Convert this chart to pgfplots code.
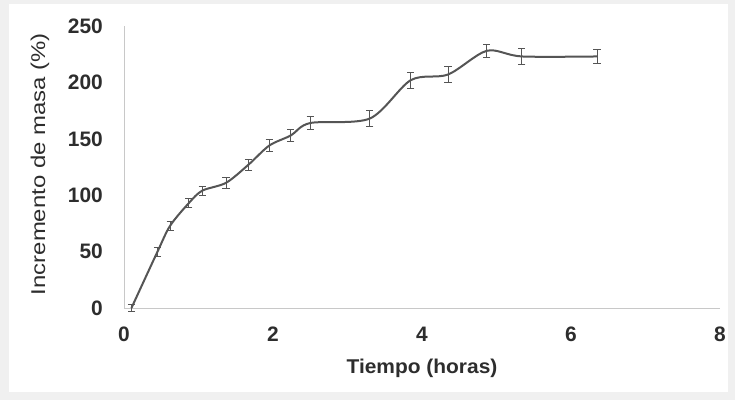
\documentclass[border=0pt]{standalone}
\usepackage{pgfplots}
\pgfplotsset{compat=1.18}
\usepackage{fontspec}
\setmainfont{Liberation Sans}
\definecolor{bggray}{RGB}{240,240,240}
\definecolor{linegray}{RGB}{85,85,85}
\definecolor{axgray}{RGB}{200,200,200}
\definecolor{txtgray}{RGB}{45,45,45}
\begin{document}
\begin{tikzpicture}
\fill[bggray] (-124bp,-92bp) rectangle (611bp,308bp);
\fill[white] (-115bp,-84bp) rectangle (604bp,304bp);
\begin{axis}[
  at={(0,0)}, anchor=origin,
  scale only axis,
  width=596bp, height=282bp,
  xmin=0, xmax=8, ymin=0, ymax=250,
  xtick={0,2,4,6,8}, ytick={0,50,100,150,200,250},
  axis x line=bottom, axis y line=left,
  axis line style={-, draw=axgray, line width=0.8bp},
  major tick length=0pt,
  /pgf/number format/assume math mode=true,
  tick label style={font=\fontsize{21}{24}\bfseries\selectfont, text=txtgray},
  yticklabel style={anchor=east, inner sep=0pt, xshift=-21bp},
  xticklabel style={anchor=north, inner sep=0pt, yshift=-19bp},
  xlabel={\scalebox{1.05}[1]{Tiempo (horas)}},
  ylabel={\scalebox{1.2}[1]{Incremento de masa (\%)}},
  label style={font=\fontsize{20}{24}\selectfont, text=txtgray},
  xlabel style={at={([yshift=-60bp]axis description cs:0.5,0)}, anchor=center, font=\fontsize{20}{24}\bfseries\selectfont},
  ylabel style={at={([xshift=-84bp]axis description cs:0,0.51)}, anchor=center},
  clip=false,
]
\addplot[color=linegray, line width=2bp, smooth, tension=0.5,
  error bars/.cd, y dir=both, y explicit,
  error bar style={line width=1bp, color=linegray},
  error mark options={rotate=90, mark size=3.6bp, line width=1bp, color=linegray}]
coordinates {
(0.10,0) +- (0,3)
(0.45,50) +- (0,4)
(0.62,73) +- (0,4)
(0.87,93) +- (0,4)
(1.05,104) +- (0,4)
(1.37,111) +- (0,5)
(1.67,127) +- (0,5)
(1.95,144) +- (0,5)
(2.24,153) +- (0,5)
(2.50,164) +- (0,6)
(3.30,168) +- (0,7)
(3.85,202) +- (0,7)
(4.35,207) +- (0,7)
(4.87,228) +- (0,6)
(5.34,223) +- (0,7)
(6.35,223) +- (0,6)
};
\end{axis}
\end{tikzpicture}
\end{document}
